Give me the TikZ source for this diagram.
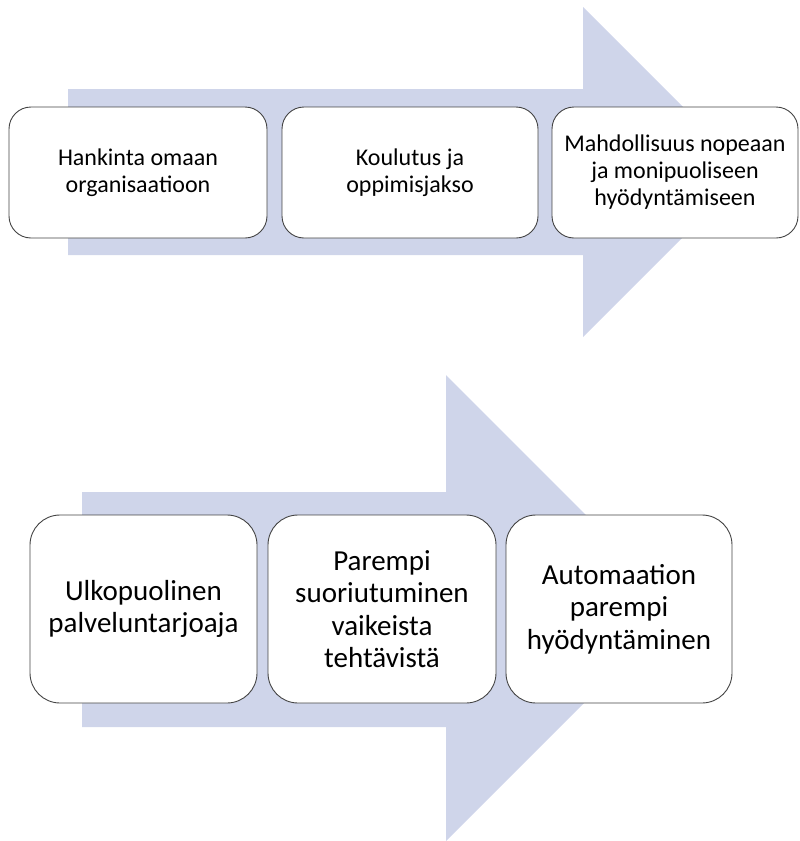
\documentclass[tikz,border=0pt]{standalone}
\usepackage{fontspec}
\setmainfont{Carlito}
\begin{document}
\begin{tikzpicture}[x=1pt,y=-1pt,
  arrowfill/.style={fill=arrowblue,draw=none},
  stagebox/.style={draw=boxline,line width=0.9pt,fill=white,rounded corners=#1,inner sep=0pt,align=center,text=black},
  uppertext/.style={font=\fontsize{24}{27}\selectfont},
  lowertext/.style={font=\fontsize{29}{32.5}\selectfont},
]
\definecolor{arrowblue}{HTML}{CFD5EA}
\definecolor{boxline}{HTML}{444444}
\useasboundingbox (0,0) rectangle (800,841);

% upper process arrow
\fill[arrowfill] (68,89) -- (583,89) -- (583,7) -- (748,172) -- (583,337) -- (583,255) -- (68,255) -- cycle;

% lower process arrow
\fill[arrowfill] (82,492) -- (446,492) -- (446,375) -- (679,608) -- (446,841) -- (446,727) -- (82,727) -- cycle;

% upper row of stages
\node[stagebox=22pt,uppertext,minimum width=258pt,minimum height=131pt] (u1) at (138,172.5) {Hankinta omaan\\organisaatioon};
\node[stagebox=22pt,uppertext,minimum width=256pt,minimum height=131pt] (u2) at (410,172.5) {Koulutus ja\\oppimisjakso};
\node[stagebox=22pt,uppertext,minimum width=246pt,minimum height=131pt] (u3) at (675,172.5) {Mahdollisuus nopeaan\\ja monipuoliseen\\hyödyntämiseen};

% lower row of stages
\node[stagebox=30pt,lowertext,minimum width=227pt,minimum height=188pt] (l1) at (143.5,609) {Ulkopuolinen\\palveluntarjoaja};
\node[stagebox=30pt,lowertext,minimum width=228pt,minimum height=188pt] (l2) at (382,609) {Parempi\\suoriutuminen\\vaikeista\\tehtävistä};
\node[stagebox=30pt,lowertext,minimum width=226pt,minimum height=188pt] (l3) at (619,609) {Automaation\\parempi\\hyödyntäminen};
\end{tikzpicture}
\end{document}
